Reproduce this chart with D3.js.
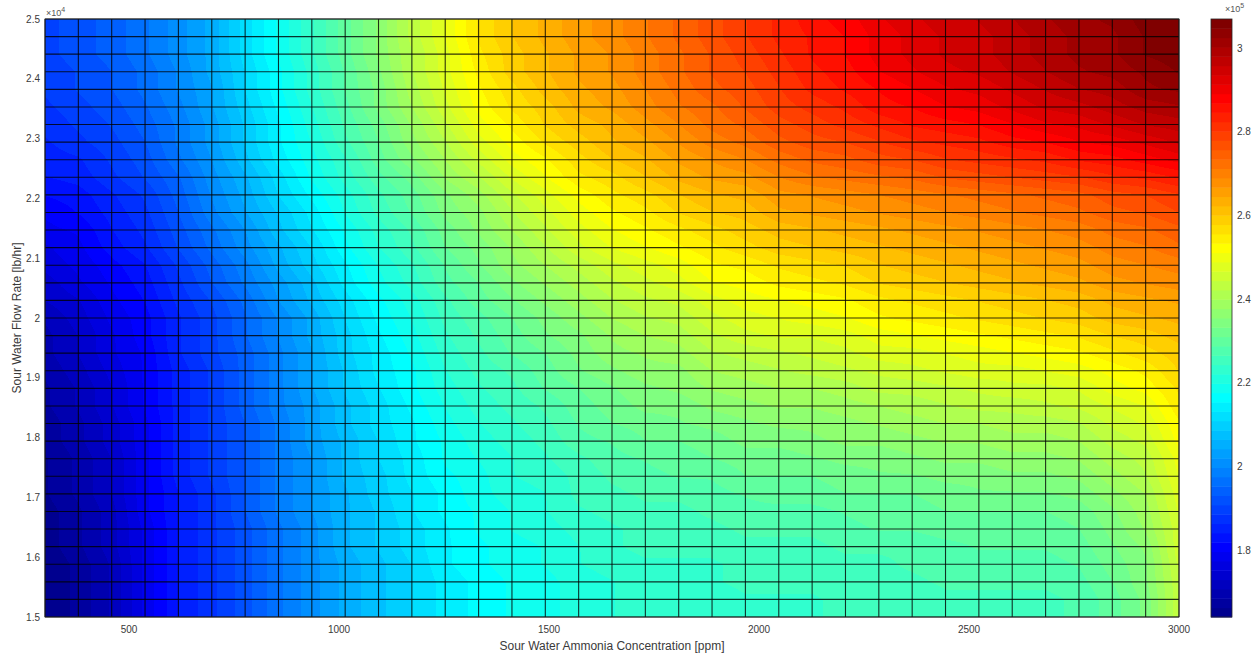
<!DOCTYPE html>
<html>
<head>
<meta charset="utf-8">
<script src="https://cdn.jsdelivr.net/npm/d3@7"></script>
<style>
  html, body { margin: 0; padding: 0; background: #ffffff; }
  svg { display: block; font-family: "Liberation Sans", Arial, Helvetica, sans-serif; }
</style>
</head>
<body>
<svg id="chart" width="1258" height="654"></svg>
<script>
// Mesh nodes along the ammonia concentration axis [ppm]
const ammoniaPpm = [300, 379.4, 458.8, 538.2, 617.6, 697.1, 776.5, 855.9, 935.3, 1014.7,
  1094.1, 1173.5, 1252.9, 1332.4, 1411.8, 1491.2, 1570.6, 1650, 1729.4, 1808.8,
  1888.2, 1967.6, 2047.1, 2126.5, 2205.9, 2285.3, 2364.7, 2444.1, 2523.5, 2602.9,
  2682.4, 2761.8, 2841.2, 2920.6, 3000];

// Mesh nodes along the sour water flow rate axis [lb/hr]
const flowRate = [15000, 15294.1, 15588.2, 15882.4, 16176.5, 16470.6, 16764.7, 17058.8,
  17352.9, 17647.1, 17941.2, 18235.3, 18529.4, 18823.5, 19117.6, 19411.8, 19705.9,
  20000, 20294.1, 20588.2, 20882.4, 21176.5, 21470.6, 21764.7, 22058.8, 22352.9,
  22647.1, 22941.2, 23235.3, 23529.4, 23823.5, 24117.6, 24411.8, 24705.9, 25000];

// Surface values in thousands; one row per flow rate (bottom to top), one column per concentration
const surfaceK = [
  [164,167,171,178,184,188,192,197,201,205,208,211,214,216,218,219,221,222,223,223,223,224,224,224,225,225,225,226,226,226,226,227,230,234,244],
  [164,167,171,178,184,188,192,197,201,205,208,211,214,216,218,219,221,222,223,223,223,224,224,224,225,225,225,226,226,226,226,227,230,234,244],
  [164,167,171,178,184,188,192,197,201,205,208,211,214,216,218,219,221,222,223,224,224,225,225,225,226,226,226,227,227,227,227,228,231,235,244],
  [164,167,171,178,184,188,192,197,201,205,208,211,215,217,219,220,222,223,224,224,224,225,225,225,226,226,227,228,228,228,228,229,232,235,245],
  [165,168,172,178,184,188,192,197,201,206,209,212,215,217,219,220,222,224,225,225,225,226,226,226,227,227,227,228,229,229,229,230,233,236,246],
  [165,168,172,178,184,188,192,197,201,206,209,212,215,218,220,221,223,224,225,226,226,227,227,227,228,229,229,230,230,230,230,231,234,238,246],
  [165,168,172,179,184,188,193,198,202,206,209,213,216,218,220,222,224,225,226,226,227,228,228,228,229,230,230,231,231,231,231,232,235,239,247],
  [166,169,173,179,184,188,193,198,202,206,210,213,216,219,221,222,225,226,227,227,228,229,230,230,231,231,231,232,233,233,233,234,237,240,248],
  [166,169,173,179,185,189,193,198,202,207,210,214,217,219,222,223,225,227,228,229,229,231,231,231,232,233,233,234,234,235,235,236,239,242,249],
  [166,169,173,179,185,189,193,198,202,207,211,214,218,220,222,224,226,228,229,230,231,232,232,233,234,234,235,236,236,237,237,238,241,243,250],
  [167,170,174,179,185,189,193,198,203,207,211,215,218,221,223,225,228,229,231,231,232,234,234,235,236,236,237,238,238,239,239,240,243,245,252],
  [167,170,174,179,185,189,193,198,203,208,212,215,219,222,224,226,229,231,232,233,234,235,236,236,237,238,239,240,240,241,241,242,245,247,253],
  [168,171,175,180,185,189,194,199,203,208,212,216,220,223,225,227,230,232,234,234,236,237,238,238,239,240,241,242,243,243,244,245,247,249,255],
  [168,171,175,180,185,189,194,199,204,209,213,217,221,224,226,229,231,233,235,236,238,239,240,240,241,243,243,244,245,246,246,247,250,252,256],
  [169,172,176,180,185,189,194,199,204,209,214,217,222,225,227,230,233,235,237,237,240,241,242,243,244,245,246,247,248,248,249,250,252,254,258],
  [170,173,177,180,186,190,194,199,204,210,214,218,223,226,229,231,234,237,238,239,242,243,244,245,246,248,248,249,250,251,252,253,255,257,259],
  [170,173,177,181,186,190,195,200,205,210,215,219,224,227,230,233,235,238,240,241,244,246,247,247,248,250,251,252,253,254,255,256,258,259,261],
  [171,174,178,181,186,190,195,200,205,211,216,220,225,228,231,234,237,240,242,243,246,248,249,250,251,253,254,255,256,257,258,259,261,262,263],
  [173,175,179,182,187,191,196,202,207,212,217,221,226,230,233,236,239,242,244,245,248,250,251,252,253,255,256,257,258,259,260,261,263,264,265],
  [174,177,180,183,188,193,198,203,208,214,219,223,228,231,235,238,241,244,246,248,251,252,254,255,256,258,259,260,261,262,263,264,266,267,268],
  [176,178,181,184,189,194,199,205,210,215,220,224,229,233,237,240,243,246,248,250,253,254,256,257,258,260,261,262,263,264,265,266,268,269,270],
  [177,179,183,186,191,196,201,206,211,217,222,226,231,234,238,242,246,249,251,253,255,257,259,260,261,262,263,264,265,266,267,268,270,271,273],
  [179,180,184,187,192,197,202,208,213,218,223,227,232,236,240,244,248,251,253,255,257,259,261,262,263,264,265,266,267,268,269,270,272,273,275],
  [180,182,185,188,193,199,204,209,214,220,225,229,234,237,242,246,250,253,255,258,260,261,264,265,266,267,268,269,270,271,272,273,275,276,278],
  [182,183,186,189,194,200,205,211,216,221,226,230,235,239,244,248,252,255,257,260,262,263,266,267,268,269,270,271,272,273,274,275,277,278,280],
  [184,185,188,191,195,201,206,212,218,223,228,232,238,242,247,251,255,257,260,263,265,266,269,271,272,273,274,276,277,278,279,280,282,283,285],
  [185,186,189,192,197,202,208,214,219,224,230,235,240,245,250,253,257,260,262,265,267,269,272,274,275,277,278,280,281,282,283,285,286,288,290],
  [186,188,190,193,198,203,209,215,220,226,231,237,242,248,252,256,259,262,264,267,270,272,275,277,278,280,282,283,284,286,287,289,290,292,294],
  [187,189,191,194,198,203,209,215,221,227,232,238,244,250,254,258,261,263,266,269,272,274,277,279,281,283,285,286,287,289,291,292,294,296,297],
  [188,190,192,195,199,204,210,216,222,228,234,240,246,252,256,259,263,265,268,271,273,276,279,281,283,286,287,289,290,292,294,295,297,299,300],
  [189,191,193,196,200,204,211,217,223,229,234,241,247,253,257,261,264,266,269,272,275,277,280,283,285,287,289,291,292,294,296,298,299,302,303],
  [189,191,193,196,200,205,211,217,223,229,235,242,248,254,259,262,265,267,270,273,276,278,281,284,286,289,291,293,294,296,298,300,301,303,305],
  [190,192,194,197,201,205,212,218,224,230,236,242,248,255,259,262,265,267,270,273,276,279,282,285,287,290,292,294,295,297,299,301,302,305,306],
  [190,192,194,197,201,205,212,218,224,230,236,243,249,256,260,263,266,268,271,274,277,280,283,285,287,290,292,294,295,297,299,301,302,305,306],
  [190,192,194,197,201,205,212,218,224,230,236,243,249,256,260,263,266,268,271,274,277,280,283,286,288,291,293,295,296,298,300,302,303,306,307]
];

// Axis ticks
const xTickValues = [500, 1000, 1500, 2000, 2500, 3000];
const yTickValues = [15000, 16000, 17000, 18000, 19000, 20000, 21000, 22000, 23000, 24000, 25000];
const yTickLabels = ["1.5", "1.6", "1.7", "1.8", "1.9", "2", "2.1", "2.2", "2.3", "2.4", "2.5"];
const colorTickValues = [180000, 200000, 220000, 240000, 260000, 280000, 300000];
const colorTickLabels = ["1.8", "2", "2.2", "2.4", "2.6", "2.8", "3"];

const xTitle = "Sour Water Ammonia Concentration [ppm]";
const yTitle = "Sour Water Flow Rate [lb/hr]";

// ---------------------------------------------------------------------------
const plot = { x: 45, y: 19, w: 1134, h: 598 };
const bar = { x: 1211, y: 19, w: 21, h: 598 };
const textColor = "#3a3a3a";
const axisColor = "#262626";

const svg = d3.select("#chart");
svg.append("rect").attr("width", 1258).attr("height", 654).attr("fill", "#ffffff");

const surface = surfaceK.map(row => row.map(v => v * 1000));
const zExtent = d3.extent(surface.flat());

const x = d3.scaleLinear()
  .domain([ammoniaPpm[0], ammoniaPpm[ammoniaPpm.length - 1]])
  .range([plot.x, plot.x + plot.w]);
const y = d3.scaleLinear()
  .domain([flowRate[0], flowRate[flowRate.length - 1]])
  .range([plot.y + plot.h, plot.y]);

// Classic 64-entry jet colour map
function jetMap(m) {
  const n = Math.ceil(m / 4);
  const u = [];
  for (let k = 1; k <= n; k++) u.push(k / n);
  for (let k = 1; k < n; k++) u.push(1);
  for (let k = n; k >= 1; k--) u.push(k / n);
  const off = Math.ceil(n / 2) - (m % 4 === 1 ? 1 : 0);
  const pick = k => (k >= 1 && k <= u.length) ? u[k - 1] : 0;
  const out = [];
  for (let idx = 1; idx <= m; idx++) {
    const r = pick(idx - off - n), g = pick(idx - off), b = pick(idx - off + n);
    out.push([Math.round(r * 255), Math.round(g * 255), Math.round(b * 255)]);
  }
  return out;
}
const jet = jetMap(64);
const colorIndex = d3.scaleQuantize().domain(zExtent).range(d3.range(jet.length));

// ---- shaded surface (interpolated within each mesh cell) ----
const canvas = document.createElement("canvas");
canvas.width = plot.w;
canvas.height = plot.h;
const ctx = canvas.getContext("2d");
const img = ctx.createImageData(plot.w, plot.h);
const nx = ammoniaPpm.length, ny = flowRate.length;

const cols = d3.range(plot.w).map(px => {
  const xv = x.invert(plot.x + px + 0.5);
  const j = Math.max(0, Math.min(nx - 2, d3.bisectRight(ammoniaPpm, xv) - 1));
  return { j, t: (xv - ammoniaPpm[j]) / (ammoniaPpm[j + 1] - ammoniaPpm[j]) };
});
const rows = d3.range(plot.h).map(py => {
  const yv = y.invert(plot.y + py + 0.5);
  const i = Math.max(0, Math.min(ny - 2, d3.bisectRight(flowRate, yv) - 1));
  return { i, s: (yv - flowRate[i]) / (flowRate[i + 1] - flowRate[i]) };
});

let p = 0;
for (let py = 0; py < plot.h; py++) {
  const { i, s } = rows[py];
  const r0 = surface[i], r1 = surface[i + 1];
  for (let px = 0; px < plot.w; px++) {
    const { j, t } = cols[px];
    const lo = r0[j] + (r0[j + 1] - r0[j]) * t;
    const hi = r1[j] + (r1[j + 1] - r1[j]) * t;
    const c = jet[colorIndex(lo + (hi - lo) * s)];
    img.data[p++] = c[0]; img.data[p++] = c[1]; img.data[p++] = c[2]; img.data[p++] = 255;
  }
}
ctx.putImageData(img, 0, 0);

svg.append("image")
  .attr("x", plot.x).attr("y", plot.y)
  .attr("width", plot.w).attr("height", plot.h)
  .attr("preserveAspectRatio", "none")
  .attr("href", canvas.toDataURL());

// ---- mesh lines ----
const mesh = svg.append("g").attr("stroke", "#000").attr("stroke-opacity", 0.8).attr("stroke-width", 1.1);
mesh.selectAll("line.v").data(ammoniaPpm).join("line").attr("class", "v")
  .attr("x1", d => x(d)).attr("x2", d => x(d))
  .attr("y1", plot.y).attr("y2", plot.y + plot.h);
mesh.selectAll("line.h").data(flowRate).join("line").attr("class", "h")
  .attr("y1", d => y(d)).attr("y2", d => y(d))
  .attr("x1", plot.x).attr("x2", plot.x + plot.w);

svg.append("rect")
  .attr("x", plot.x).attr("y", plot.y).attr("width", plot.w).attr("height", plot.h)
  .attr("fill", "none").attr("stroke", axisColor).attr("stroke-width", 0.8);

// ---- axis labels ----
svg.append("g").selectAll("text").data(xTickValues).join("text")
  .attr("x", d => x(d)).attr("y", 633)
  .attr("text-anchor", "middle").attr("font-size", 10).attr("fill", textColor)
  .text(d => d);

svg.append("g").selectAll("text").data(yTickValues).join("text")
  .attr("x", plot.x - 5).attr("y", d => y(d) + 3.5)
  .attr("text-anchor", "end").attr("font-size", 10).attr("fill", textColor)
  .text((d, k) => yTickLabels[k]);

const yExp = svg.append("text").attr("x", plot.x + 1).attr("y", plot.y - 3)
  .attr("font-size", 9).attr("fill", "#555");
yExp.append("tspan").text("\u00d710");
yExp.append("tspan").attr("font-size", 7).attr("dy", -4).text("4");

svg.append("text")
  .attr("x", plot.x + plot.w / 2).attr("y", 650)
  .attr("text-anchor", "middle").attr("font-size", 12).attr("fill", textColor)
  .text(xTitle);

svg.append("text")
  .attr("transform", `translate(21,${plot.y + plot.h / 2}) rotate(-90)`)
  .attr("text-anchor", "middle").attr("font-size", 12).attr("fill", textColor)
  .text(yTitle);

// ---- colour bar ----
const cy = d3.scaleLinear().domain(zExtent).range([bar.y + bar.h, bar.y]);
svg.append("g").selectAll("rect").data(d3.range(jet.length)).join("rect")
  .attr("x", bar.x).attr("width", bar.w)
  .attr("y", k => cy(colorIndex.invertExtent(k)[1]))
  .attr("height", k => cy(colorIndex.invertExtent(k)[0]) - cy(colorIndex.invertExtent(k)[1]) + 0.5)
  .attr("fill", k => `rgb(${jet[k].join(",")})`);
svg.append("rect")
  .attr("x", bar.x).attr("y", bar.y).attr("width", bar.w).attr("height", bar.h)
  .attr("fill", "none").attr("stroke", axisColor).attr("stroke-width", 0.8);

svg.append("g").selectAll("text").data(colorTickValues).join("text")
  .attr("x", bar.x + bar.w + 5).attr("y", d => cy(d) + 3.5)
  .attr("font-size", 10).attr("fill", textColor)
  .text((d, k) => colorTickLabels[k]);

const cExp = svg.append("text").attr("x", bar.x + 14).attr("y", bar.y - 7)
  .attr("font-size", 9).attr("fill", "#555");
cExp.append("tspan").text("\u00d710");
cExp.append("tspan").attr("font-size", 7).attr("dy", -4).text("5");
</script>
</body>
</html>
